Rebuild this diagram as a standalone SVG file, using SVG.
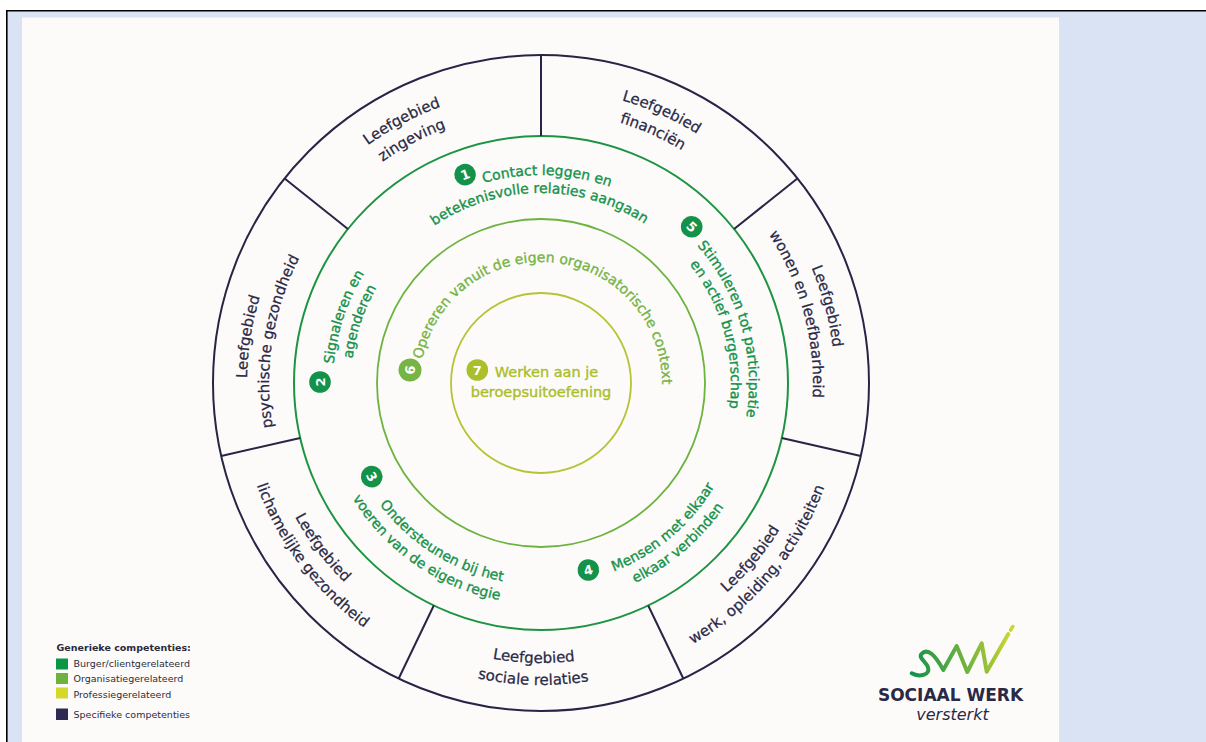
<svg xmlns="http://www.w3.org/2000/svg" width="1206" height="742" viewBox="0 0 1206 742">
<style>
.nav{fill:#2a2946;stroke:#2a2946;stroke-width:0.25;font-family:"DejaVu Sans",sans-serif;font-size:15px}
.gr{fill:#15924a;stroke:#15924a;stroke-width:0.35;font-family:"DejaVu Sans",sans-serif;font-size:14px}
.g6{fill:#76b446;stroke:#76b446;stroke-width:0.35;font-family:"DejaVu Sans",sans-serif;font-size:14px}
.g7{fill:#abbe2c;stroke:#abbe2c;stroke-width:0.4;font-family:"DejaVu Sans",sans-serif;font-size:14.5px}
.bn{fill:#ffffff;font-family:"DejaVu Sans",sans-serif;font-weight:bold;font-size:13px;text-anchor:middle}
.div{stroke:#262545;stroke-width:2}
.leg{fill:#2b2b3b;font-family:"DejaVu Sans",sans-serif;font-size:9.5px}
</style>
<defs>
<path id="t294" d="M 247 383 A 294 294 0 0 1 835 383"/>
<path id="t272" d="M 269 383 A 272 272 0 0 1 813 383"/>
<path id="t208" d="M 333 383 A 208 208 0 0 1 749 383"/>
<path id="t190" d="M 351 383 A 190 190 0 0 1 731 383"/>
<path id="t121" d="M 420 383 A 121 121 0 0 1 662 383"/>
<path id="b280" d="M 261 383 A 280 280 0 0 0 821 383"/>
<path id="b302" d="M 239 383 A 302 302 0 0 0 843 383"/>
<path id="b202" d="M 339 383 A 202 202 0 0 0 743 383"/>
<path id="b221" d="M 320 383 A 221 221 0 0 0 762 383"/>
<linearGradient id="logoGrad" gradientUnits="userSpaceOnUse" x1="911" y1="660" x2="1012" y2="640">
<stop offset="0" stop-color="#12924a"/>
<stop offset="0.5" stop-color="#6cb23f"/>
<stop offset="1" stop-color="#cdd62e"/>
</linearGradient>
</defs>

<g id="frame">
<rect x="7" y="10.5" width="1199" height="731.5" fill="#d9e3f3"/>
<rect x="22" y="17.5" width="1037" height="724.5" fill="#fdfbfa"/>
<line x1="6.8" y1="10" x2="6.8" y2="742" stroke="#000" stroke-width="1.6"/>
<line x1="6" y1="10.7" x2="1206" y2="10.7" stroke="#000" stroke-width="1.6"/>
</g>

<g id="rings" fill="none">
<circle cx="541" cy="383" r="328" stroke="#262545" stroke-width="2"/>
<circle cx="541" cy="383" r="247" stroke="#1d9441" stroke-width="2"/>
<circle cx="541" cy="383" r="164" stroke="#6db33f" stroke-width="1.8"/>
<circle cx="541" cy="383" r="90" stroke="#b5c434" stroke-width="1.8"/>
</g>

<g id="connectors">
<line class="div" x1="541" y1="136" x2="541" y2="55"/>
<line class="div" x1="734.1" y1="229" x2="797.4" y2="178.5"/>
<line class="div" x1="781.8" y1="438" x2="860.8" y2="456"/>
<line class="div" x1="648.2" y1="605.5" x2="683.3" y2="678.5"/>
<line class="div" x1="433.8" y1="605.5" x2="398.7" y2="678.5"/>
<line class="div" x1="300.2" y1="438" x2="221.2" y2="456"/>
<line class="div" x1="347.9" y1="229" x2="284.6" y2="178.5"/>
</g>

<g id="leefgebied-zingeving" class="nav" text-anchor="middle" transform="rotate(-28 541 383)">
<text><textPath href="#t294" startOffset="50%">Leefgebied</textPath></text>
<text><textPath href="#t272" startOffset="50%">zingeving</textPath></text>
</g>
<g id="leefgebied-financien" class="nav" text-anchor="middle" transform="rotate(24 541 383)">
<text><textPath href="#t294" startOffset="50%">Leefgebied</textPath></text>
<text><textPath href="#t272" startOffset="50%">financiën</textPath></text>
</g>
<g id="leefgebied-wonen" class="nav" text-anchor="middle" transform="rotate(75 541 383)">
<text><textPath href="#t294" startOffset="50%">Leefgebied</textPath></text>
<text><textPath href="#t272" startOffset="50%">wonen en leefbaarheid</textPath></text>
</g>
<g id="leefgebied-werk" class="nav" text-anchor="middle" transform="rotate(-50 541 383)">
<text><textPath href="#b280" startOffset="50%">Leefgebied</textPath></text>
<text><textPath href="#b302" startOffset="50%">werk, opleiding, activiteiten</textPath></text>
</g>
<g id="leefgebied-sociale" class="nav" text-anchor="middle" transform="rotate(1.5 541 383)">
<text><textPath href="#b280" startOffset="50%">Leefgebied</textPath></text>
<text><textPath href="#b302" startOffset="50%">sociale relaties</textPath></text>
</g>
<g id="leefgebied-lichamelijk" class="nav" text-anchor="middle" transform="rotate(53 541 383)">
<text><textPath href="#b280" startOffset="50%">Leefgebied</textPath></text>
<text><textPath href="#b302" startOffset="50%">lichamelijke gezondheid</textPath></text>
</g>
<g id="leefgebied-psychisch" class="nav" text-anchor="middle" transform="rotate(-81 541 383)">
<text><textPath href="#t294" startOffset="50%">Leefgebied</textPath></text>
<text><textPath href="#t272" startOffset="50%">psychische gezondheid</textPath></text>
</g>

<g id="competentie-1">
<g class="gr" text-anchor="middle">
<text transform="rotate(1.7 541 383)"><textPath href="#t208" startOffset="50%">Contact leggen en</textPath></text>
<text transform="rotate(-0.5 541 383)"><textPath href="#t190" startOffset="50%">betekenisvolle relaties aangaan</textPath></text>
</g>
<g transform="translate(465.1 174.6) rotate(-20)"><circle r="10.8" fill="#15924a"/><text class="bn" y="4.7">1</text></g>
</g>

<g id="competentie-2">
<g class="gr" text-anchor="middle">
<text transform="rotate(-71.5 541 383)"><textPath href="#t208" startOffset="50%">Signaleren en</textPath></text>
<text transform="rotate(-71.3 541 383)"><textPath href="#t190" startOffset="50%">agenderen</textPath></text>
</g>
<g transform="translate(320 382) rotate(-90)"><circle r="10.8" fill="#15924a"/><text class="bn" y="4.7">2</text></g>
</g>

<g id="competentie-3">
<g class="gr" text-anchor="middle">
<text transform="rotate(32 541 383)"><textPath href="#b202" startOffset="50%">Ondersteunen bij het</textPath></text>
<text transform="rotate(34.7 541 383)"><textPath href="#b221" startOffset="50%">voeren van de eigen regie</textPath></text>
</g>
<g transform="translate(371.7 476.7) rotate(61)"><circle r="10.8" fill="#15924a"/><text class="bn" y="4.7">3</text></g>
</g>

<g id="competentie-4">
<g class="gr" text-anchor="middle">
<text transform="rotate(-40.2 541 383)"><textPath href="#b202" startOffset="50%">Mensen met elkaar</textPath></text>
<text transform="rotate(-40.5 541 383)"><textPath href="#b221" startOffset="50%">elkaar verbinden</textPath></text>
</g>
<g transform="translate(588.3 570) rotate(-14)"><circle r="10.8" fill="#15924a"/><text class="bn" y="4.7">4</text></g>
</g>

<g id="competentie-5">
<g class="gr" text-anchor="middle">
<text transform="rotate(74 541 383)"><textPath href="#t208" startOffset="50%">Stimuleren tot participatie</textPath></text>
<text transform="rotate(74.5 541 383)"><textPath href="#t190" startOffset="50%">en actief burgerschap</textPath></text>
</g>
<g transform="translate(691.7 226.7) rotate(44)"><circle r="10.8" fill="#15924a"/><text class="bn" y="4.7">5</text></g>
</g>

<g id="competentie-6">
<text class="g6" text-anchor="middle" transform="rotate(6 541 383)"><textPath href="#t121" startOffset="50%">Opereren vanuit de eigen organisatorische context</textPath></text>
<g transform="translate(410 370) rotate(-84)"><circle r="11.5" fill="#76b446"/><text class="bn" y="4.7">6</text></g>
</g>

<g id="competentie-7">
<text class="g7" x="546.5" y="377.3" text-anchor="middle">Werken aan je</text>
<text class="g7" x="541" y="397.3" text-anchor="middle">beroepsuitoefening</text>
<g transform="translate(477.3 370)"><circle r="10.8" fill="#abbe2c"/><text class="bn" y="4.7">7</text></g>
</g>

<g id="legenda">
<text x="56.5" y="650.5" fill="#2a2a3a" font-family="'DejaVu Sans',sans-serif" font-weight="bold" font-size="9.5">Generieke competenties:</text>
<rect x="56" y="658.5" width="12" height="11" fill="#0b9646"/>
<text class="leg" x="73.5" y="667">Burger/clientgerelateerd</text>
<rect x="56" y="673" width="12" height="11" fill="#6db23f"/>
<text class="leg" x="73.5" y="682.3">Organisatiegerelateerd</text>
<rect x="56" y="687.5" width="12" height="11" fill="#d3d82b"/>
<text class="leg" x="73.5" y="697.5">Professiegerelateerd</text>
<rect x="56" y="708.5" width="12" height="11.5" fill="#2e2a52"/>
<text class="leg" x="73.5" y="717.7">Specifieke competenties</text>
</g>

<g id="logo">
<path d="M 911.7 673.3 C 918 677 932 676 927.5 666 C 924 660 918 657 922 653.5 C 928 648 935 655 943.3 670 L 956.7 646 L 967.3 672 L 981.7 643.3 L 986.7 671.7 L 1008.3 634" fill="none" stroke="url(#logoGrad)" stroke-width="4" stroke-linecap="round" stroke-linejoin="round"/>
<line x1="1010.6" y1="630" x2="1012.8" y2="626.6" stroke="#cdd62e" stroke-width="3.6" stroke-linecap="round"/>
<text x="950.5" y="701" text-anchor="middle" fill="#2a2946" font-family="'DejaVu Sans',sans-serif" font-weight="bold" font-size="17">SOCIAAL WERK</text>
<text x="952.5" y="719.5" text-anchor="middle" fill="#2a2946" font-family="'DejaVu Sans',sans-serif" font-style="italic" font-size="16">versterkt</text>
</g>
</svg>
